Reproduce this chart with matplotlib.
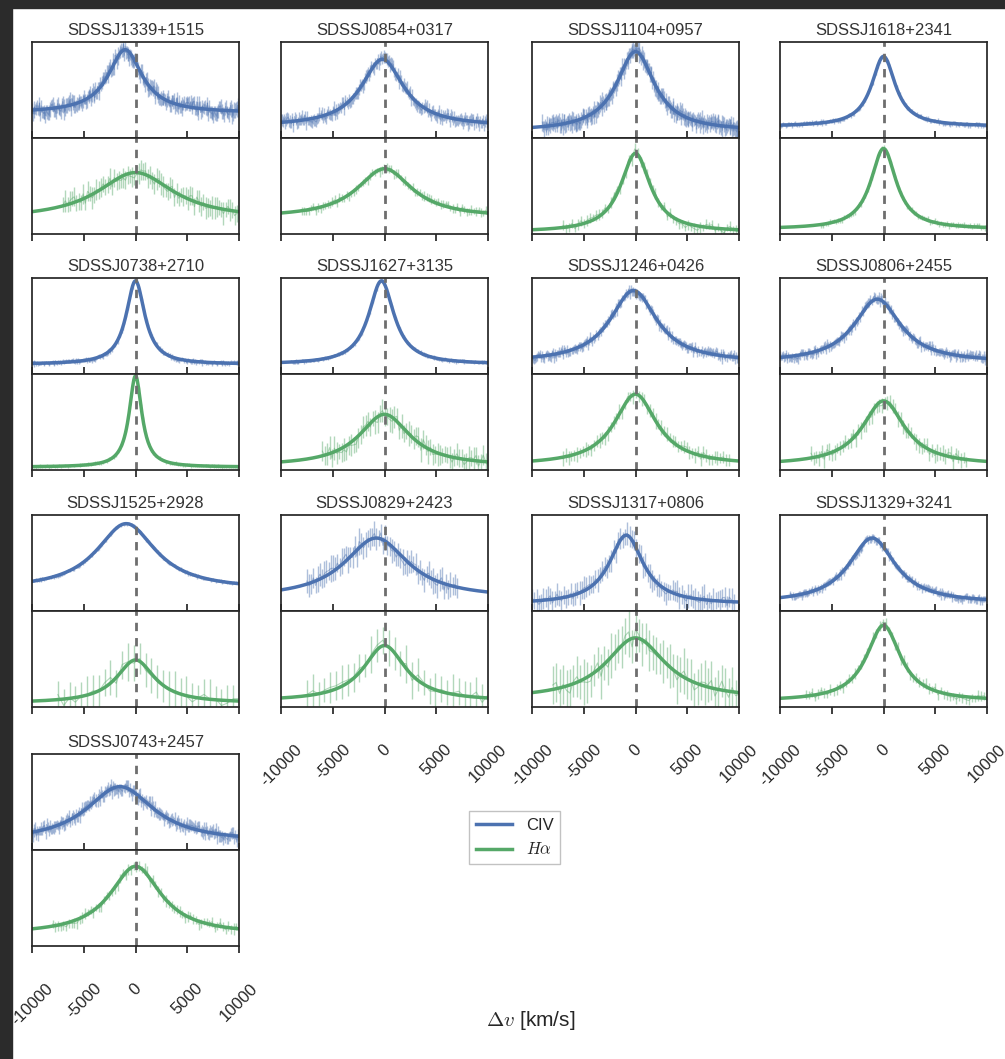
import numpy as np
import matplotlib
matplotlib.use("Agg")
import matplotlib.pyplot as plt
from matplotlib.patches import Rectangle
from matplotlib.lines import Line2D

plt.rcParams['font.family'] = ['Liberation Sans', 'DejaVu Sans']
plt.rcParams['mathtext.fontset'] = 'cm'
plt.rcParams['text.color'] = '.15'
plt.rcParams['xtick.color'] = '.15'
plt.rcParams['axes.edgecolor'] = '.15'
plt.rcParams['axes.linewidth'] = 1.25

names = ['SDSSJ1339+1515', 'SDSSJ0854+0317', 'SDSSJ1104+0957', 'SDSSJ1618+2341',
         'SDSSJ0738+2710', 'SDSSJ1627+3135', 'SDSSJ1246+0426', 'SDSSJ0806+2455',
         'SDSSJ1525+2928', 'SDSSJ0829+2423', 'SDSSJ1317+0806', 'SDSSJ1329+3241',
         'SDSSJ0743+2457']

# line profiles (normalised flux): centre [km/s], FWHM [km/s], peak, continuum
civ_center = [-1000, -200, 0, 0, 0, -300, -200, -600, -900, -800, -900, -1100, -1500]
civ_fwhm = [4000, 5000, 4500, 2800, 2200, 3000, 5500, 5500, 7000, 7500, 4000, 5500, 8000]
civ_peak = [0.92, 0.82, 0.90, 0.85, 0.97, 0.97, 0.87, 0.78, 0.91, 0.76, 0.79, 0.76, 0.66]
civ_base = [0.26, 0.12, 0.07, 0.12, 0.10, 0.10, 0.12, 0.12, 0.22, 0.13, 0.07, 0.08, 0.08]
civ_scatter = [0.07, 0.05, 0.05, 0.02, 0.02, 0.015, 0.04, 0.04, 0.015, 0.07, 0.05, 0.03, 0.05]
civ_err = [0.08, 0.07, 0.09, 0.02, 0.02, 0.015, 0.05, 0.05, 0.015, 0.14, 0.13, 0.04, 0.07]
civ_lo = [-10000, -10000, -9000, -10000, -10000, -9000, -10000, -10000, -10000, -7500, -10000, -9000, -10000]
civ_hi = [10000, 10000, 10000, 10000, 10000, 10000, 10000, 10000, 10000, 7000, 9500, 10000, 10000]
civ_npts = [250, 200, 250, 200, 250, 250, 200, 200, 200, 70, 90, 200, 200]

ha_center = [0, 0, 0, 0, 0, 0, 0, 0, 0, 0, 0, 0, 0]
ha_fwhm = [9000, 6500, 3500, 3000, 1500, 6000, 5000, 5000, 4500, 5000, 7000, 4000, 6000]
ha_peak = [0.64, 0.68, 0.84, 0.89, 0.98, 0.58, 0.79, 0.72, 0.49, 0.64, 0.72, 0.85, 0.83]
ha_base = [0.15, 0.17, 0.02, 0.05, 0.03, 0.04, 0.05, 0.05, 0.04, 0.06, 0.08, 0.06, 0.12]
ha_scatter = [0.06, 0.03, 0.05, 0.02, 0.01, 0.07, 0.04, 0.05, 0.07, 0.06, 0.10, 0.04, 0.04]
ha_err = [0.12, 0.05, 0.06, 0.03, 0.02, 0.13, 0.08, 0.09, 0.22, 0.2, 0.26, 0.06, 0.06]
ha_lo = [-7000, -8000, -7000, -6000, -10000, -6000, -7000, -7000, -7500, -7500, -8000, -7500, -8000]
ha_hi = [10000, 10000, 10000, 10000, 10000, 10000, 9000, 8000, 10000, 10000, 10000, 10000, 10000]
ha_npts = [80, 80, 60, 80, 100, 70, 60, 60, 32, 32, 55, 60, 70]

# residual pattern (in units of the scatter)
resid = [0.32, -0.85, 0.14, 0.67, -0.41, -0.12, 0.93, -0.58, 0.26, -0.07,
         0.49, -0.96, 0.71, 0.05, -0.33, 0.58, -0.74, 0.19, -0.22, 0.84,
         -0.63, 0.38, -0.15, 0.02, 0.77, -0.49, -0.88, 0.44, 0.11, -0.29,
         0.63, -0.04, -0.71, 0.91, -0.36, 0.24, -0.55, 0.08, 0.52, -0.93,
         0.35, -0.18, 0.69, -0.62, 0.15, 0.81, -0.27, -0.44, 0.56, -0.09,
         0.28, -0.79, 0.97, -0.13, 0.41, -0.66, 0.03, 0.74, -0.38, -0.21,
         0.59, -0.52, 0.17, 0.88, -0.95, 0.31, -0.06, 0.46, -0.31, 0.72,
         -0.83, 0.09, 0.37, -0.47, 0.65, -0.24, -0.01, 0.53, -0.69, 0.22,
         0.86, -0.57, -0.16, 0.43, -0.39, 0.12, 0.78, -0.91, 0.27, -0.11,
         0.62, -0.34, 0.06, -0.76, 0.94, -0.45, 0.18, 0.55, -0.64, 0.34, -0.02]
resid = np.array(resid)

xticks = [-10000, -5000, 0, 5000, 10000]

blue = '#4C72B0'
green = '#55A868'


def profile(v, c, fwhm, peak, base):
    return base + (peak - base) / (1 + (2 * (v - c) / fwhm) ** 2)


W, H = 1005, 1059
fig = plt.figure(figsize=(W / 100, H / 100), dpi=100)

col_left = [32, 281, 532, 780]
row_top = [42, 278, 515, 754]
pw, ph = 207, 96
vgrid = np.linspace(-10000, 10000, 400)


def draw(ax, c, fwhm, peak, base, scat, err, lo, hi, n, color, seed):
    v = np.linspace(lo, hi, n)
    idx = (np.arange(n) * 7 + seed) % len(resid)
    idx2 = (np.arange(n) * 11 + seed + 5) % len(resid)
    y = profile(v, c, fwhm, peak, base) + scat * resid[idx]
    e = err * (0.6 + 0.4 * np.abs(resid[idx2]))
    ax.errorbar(v, y, yerr=e, fmt='none', ecolor=color, elinewidth=1, alpha=0.45)
    ax.plot(v, y, color=color, lw=0.8, alpha=0.45)
    ax.plot(vgrid, profile(vgrid, c, fwhm, peak, base), color=color, lw=2.5)
    ax.axvline(0, color='#6e6e6e', lw=2, dashes=(3, 2.5))
    ax.set_xlim(-10000, 10000)
    ax.set_ylim(0, 1)
    ax.set_yticks([])
    ax.set_xticks(xticks)


bottom_row = [9, 10, 11, 12]
for k, name in enumerate(names):
    r, col = k // 4, k % 4
    left = col_left[col] / W
    top = row_top[r]
    ax1 = fig.add_axes([left, 1 - (top + ph) / H, pw / W, ph / H])
    ax2 = fig.add_axes([left, 1 - (top + 2 * ph) / H, pw / W, ph / H])
    draw(ax1, civ_center[k], civ_fwhm[k], civ_peak[k], civ_base[k],
         civ_scatter[k], civ_err[k], civ_lo[k], civ_hi[k], civ_npts[k], blue, 3 * k)
    draw(ax2, ha_center[k], ha_fwhm[k], ha_peak[k], ha_base[k],
         ha_scatter[k], ha_err[k], ha_lo[k], ha_hi[k], ha_npts[k], green, 5 * k + 17)
    ax1.set_title(name, fontsize=12, pad=5, color='#333333')
    ax1.tick_params(axis='x', direction='in', length=5, width=1.25, labelbottom=False)
    ax2.tick_params(axis='x', direction='out', length=5, width=1.25, labelsize=12, pad=20)
    if k in bottom_row:
        ax2.set_xticklabels([str(t) for t in xticks], rotation=45)
    else:
        ax2.tick_params(labelbottom=False)

handles = [Line2D([], [], color=blue, lw=2.5), Line2D([], [], color=green, lw=2.5)]
fig.legend(handles, ['CIV', r'$H\alpha$'], loc='center', bbox_to_anchor=(0.512, 0.209),
           fontsize=12, frameon=True, edgecolor='0.7', fancybox=False, handlelength=2.2)

fig.text(0.528, 0.036, r'$\Delta v$ [km/s]', ha='center', va='center', fontsize=15)

# dark border of the notebook screenshot
fig.patches.append(Rectangle((0, 1 - 8 / H), 1, 8 / H, transform=fig.transFigure,
                             color='#2b2b2b', zorder=10))
fig.patches.append(Rectangle((0, 0), 12 / W, 1, transform=fig.transFigure,
                             color='#2b2b2b', zorder=10))

fig.savefig('out.png', dpi=100)
